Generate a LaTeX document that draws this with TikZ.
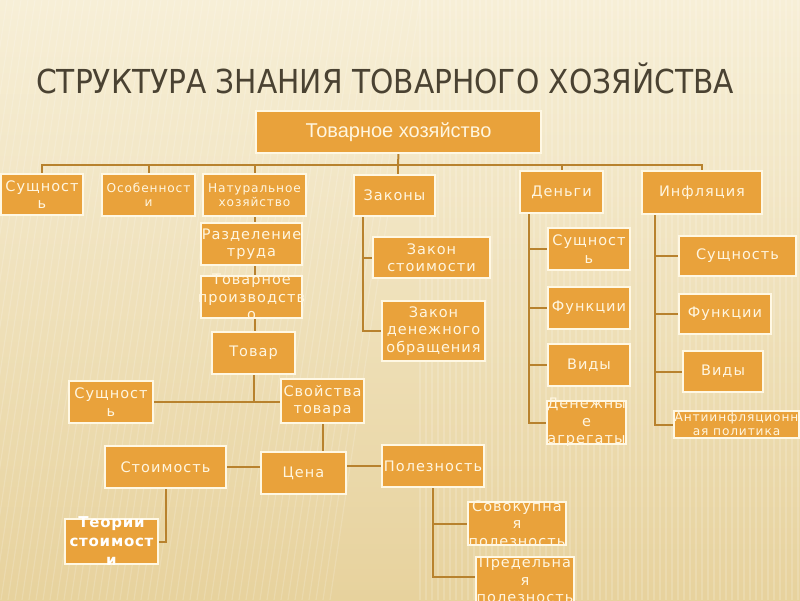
\documentclass[tikz,border=0pt]{standalone}
\usepackage{fontspec}
\usetikzlibrary{fit}
\setmainfont{DejaVu Sans}
\newfontfamily\bxfont[LetterSpace=7]{DejaVu Sans}
\newfontfamily\teorfont[LetterSpace=5]{DejaVu Sans Bold}
\newfontfamily\arialfont{Liberation Sans}
\newfontfamily\titlefont{DejaVu Sans Condensed}
\definecolor{bgtop}{HTML}{F7EFD7}
\definecolor{bgbot}{HTML}{E7D29D}
\definecolor{boxfill}{HTML}{E9A23B}
\definecolor{boxline}{HTML}{FFF8E4}
\definecolor{linecol}{HTML}{B8822E}
\definecolor{txtcol}{HTML}{FFF6E0}
\definecolor{titlecol}{HTML}{4A4232}
\tikzset{
  box/.style={draw=boxline, line width=1.6pt, fill=boxfill, inner sep=0pt},
  conn/.style={draw=linecol, line width=2pt},
  stripe/.style={draw=white, opacity=0.16, line width=1.2pt},
  lbl/.style={text=txtcol, align=center, inner sep=0pt, font=\bxfont\fontsize{14.5}{17.5}\selectfont},
  lblsm/.style={lbl, font=\bxfont\fontsize{12.2}{14}\selectfont},
}
\begin{document}
\begin{tikzpicture}[x=1pt,y=-1pt]
\useasboundingbox (0,0) rectangle (800,600);
\shade[top color=bgtop, bottom color=bgbot] (0,0) rectangle (800,600);
\begin{scope}
\clip (0,0) rectangle (800,600);
\foreach \x in {0,7,...,420}{ \draw[stripe] (\x,0) -- (\x-90,600); }
\foreach \x in {420,426,...,800}{ \draw[stripe] (\x,0) -- (\x,600); }
\end{scope}
% title
\node[anchor=west, text=titlecol, inner sep=0pt, font=\titlefont\fontsize{33}{36}\selectfont] (title) at (36,78) {СТРУКТУРА ЗНАНИЯ ТОВАРНОГО ХОЗЯЙСТВА};
% boxes
\node[box, fit={(257,112)(540,152)}] (top) {};
\node[box, fit={(2,175)(82,214)}] (s1) {};
\node[box, fit={(103,175)(194,215)}] (osob) {};
\node[box, fit={(204,175)(305,215)}] (nat) {};
\node[box, fit={(355,176)(434,215)}] (zak) {};
\node[box, fit={(521,172)(602,212)}] (den) {};
\node[box, fit={(643,172)(761,213)}] (inf) {};
\coordinate (bus) at (398,165);
\coordinate (zakv) at (363,0);
\coordinate (denv) at (529,0);
\coordinate (infv) at (655,0);
\coordinate (pb) at (433,577);
\node[box, fit={(202,224)(301,264)}] (razd) {};
\node[box, fit={(202,277)(301,317)}] (tovpr) {};
\node[box, fit={(213,333)(294,373)}] (tovar) {};
\node[box, fit={(374,238)(489,277)}] (zs) {};
\node[box, fit={(383,302)(484,360)}] (zdo) {};
\node[box, fit={(549,229)(629,269)}] (ds) {};
\node[box, fit={(549,288)(629,328)}] (df) {};
\node[box, fit={(549,345)(629,385)}] (dv) {};
\node[box, fit={(548,402)(625,443)}] (da) {};
\node[box, fit={(680,237)(795,275)}] (is) {};
\node[box, fit={(680,295)(770,333)}] (if) {};
\node[box, fit={(684,352)(762,391)}] (iv) {};
\node[box, fit={(675,412)(798,437)}] (ia) {};
\node[box, fit={(70,382)(152,422)}] (ts) {};
\node[box, fit={(282,380)(363,422)}] (sv) {};
\node[box, fit={(106,447)(225,487)}] (st) {};
\node[box, fit={(262,453)(345,493)}] (cena) {};
\node[box, fit={(383,446)(483,486)}] (pol) {};
\node[box, fit={(66,520)(157,563)}] (teor) {};
\node[box, fit={(469,503)(565,544)}] (sov) {};
\node[box, fit={(477,558)(573,612)}] (pred) {};
% connectors
\draw[conn] (top.south) -- (bus);
\draw[conn] (s1.north) -- (s1.north |- bus) -- (inf.north |- bus) -- (inf.north);
\draw[conn] (osob.north) -- (osob.north |- bus);
\draw[conn] (nat.north) -- (nat.north |- bus);
\draw[conn] (bus) -- (bus |- zak.north);
\draw[conn] (den.north) -- (den.north |- bus);
\draw[conn] (zakv |- zak.south) -- (zakv |- zdo.west) -- (zdo.west);
\draw[conn] (zakv |- zs.west) -- (zs.west);
\draw[conn] (denv |- den.south) -- (denv |- da.west) -- (da.west);
\draw[conn] (denv |- ds.west) -- (ds.west);
\draw[conn] (denv |- df.west) -- (df.west);
\draw[conn] (denv |- dv.west) -- (dv.west);
\draw[conn] (infv |- inf.south) -- (infv |- ia.west) -- (ia.west);
\draw[conn] (infv |- is.west) -- (is.west);
\draw[conn] (infv |- if.west) -- (if.west);
\draw[conn] (infv |- iv.west) -- (iv.west);
\draw[conn] (nat.south) -- (nat.south |- tovar.north);
\draw[conn] (tovar.south) -- (tovar.south |- ts.east);
\draw[conn] (ts.east) -- (ts.east -| sv.west);
\draw[conn] (sv.south) -- (sv.south |- cena.north);
\draw[conn] (st.east) -- (st.east -| cena.west);
\draw[conn] (pol.west) -- (pol.west -| cena.east);
\draw[conn] (st.south) -- (st.south |- teor.east) -- (teor.east);
\draw[conn] (pol.south) -- (pb) -- (pb -| pred.west);
\draw[conn] (pol.south |- sov.west) -- (sov.west);
% redraw boxes over the lines
\foreach \n in {razd,tovpr,tovar,zak,zs,zdo,ds,df,dv,da,is,if,iv,ia,ts,sv,st,cena,pol,teor,sov,pred,top,s1,osob,nat,den,inf}{
  \path[box] (\n.south west) rectangle (\n.north east);
}
% labels
\node[text=txtcol, inner sep=0pt, font=\arialfont\fontsize{20}{22}\selectfont] at (top) {Товарное хозяйство};
\node[lbl] at (s1) {Сущност\\ь};
\node[lblsm] at (osob) {Особенност\\и};
\node[lblsm] at (nat) {Натуральное\\хозяйство};
\node[lbl] at (zak) {Законы};
\node[lbl] at (den) {Деньги};
\node[lbl] at (inf) {Инфляция};
\node[lbl] at (razd) {Разделение\\труда};
\node[lbl] at (tovpr) {Товарное\\производств\\о};
\node[lbl] at (tovar) {Товар};
\node[lbl] at (zs) {Закон\\стоимости};
\node[lbl] at (zdo) {Закон\\денежного\\обращения};
\node[lbl] at (ds) {Сущност\\ь};
\node[lbl] at (df) {Функции};
\node[lbl] at (dv) {Виды};
\node[lbl] at (da) {Денежны\\е\\агрегаты};
\node[lbl] at (is) {Сущность};
\node[lbl] at (if) {Функции};
\node[lbl] at (iv) {Виды};
\node[lblsm] at (ia) {Антиинфляционн\\ая политика};
\node[lbl] at (ts) {Сущност\\ь};
\node[lbl] at (sv) {Свойства\\товара};
\node[lbl] at (st) {Стоимость};
\node[lbl] at (cena) {Цена};
\node[lbl] at (pol) {Полезность};
\node[text=white, align=center, inner sep=0pt, font=\teorfont\fontsize{15}{19}\selectfont] at (teor) {Теории\\стоимост\\и};
\node[lbl] at (sov) {Совокупна\\я\\полезность};
\node[lbl] at ([yshift=5]pred.center) {Предельна\\я\\полезность};
\end{tikzpicture}
\end{document}
